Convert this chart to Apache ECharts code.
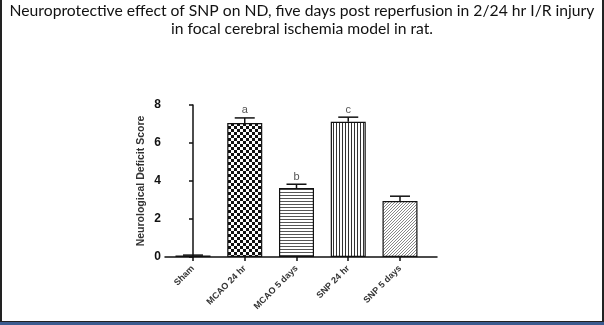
<!DOCTYPE html>
<html>
<head>
<meta charset="utf-8">
<script src="https://cdn.jsdelivr.net/npm/echarts@6/dist/echarts.min.js"></script>
<style>
html,body{margin:0;padding:0;background:#fff;}
#wrap{position:relative;width:604px;height:325px;overflow:hidden;}
#chart{position:absolute;left:0;top:0;width:604px;height:325px;}
.fr{position:absolute;}
</style>
</head>
<body>
<div id="wrap">
<div id="chart"></div>
<div class="fr" style="left:0;top:0;width:2px;height:325px;background:#222;"></div>
<div class="fr" style="right:0;top:0;width:2px;height:325px;background:#222;"></div>
<div class="fr" style="left:0;top:321px;width:604px;height:1px;background:#222;"></div>
<div class="fr" style="left:0;top:322px;width:604px;height:3px;background:#3b5b8f;"></div>
</div>
<script>
// ---- data ----
var categories = ['Sham', 'MCAO 24 hr', 'MCAO 5 days', 'SNP 24 hr', 'SNP 5 days'];
var means = [0.08, 7.05, 3.63, 7.12, 2.95];
var errors = [0.02, 0.27, 0.2, 0.24, 0.25];
var sigLetters = ['', 'a', 'b', 'c', ''];
var yTicks = [0, 2, 4, 6, 8];
var titleLines = ['Neuroprotective effect of SNP on ND, five days post reperfusion in 2/24 hr I/R injury',
                  'in focal cerebral ischemia model in rat.'];
var yName = 'Neurological Deficit Score';

// ---- patterns ----
function makeTile(w, h, draw) {
  var c = document.createElement('canvas');
  c.width = w; c.height = h;
  var ctx = c.getContext('2d');
  ctx.fillStyle = '#fff';
  ctx.fillRect(0, 0, w, h);
  draw(ctx);
  return c;
}
var checker = makeTile(6, 6, function (ctx) {
  ctx.fillStyle = '#111';
  ctx.fillRect(0, 0, 3, 3);
  ctx.fillRect(3, 3, 3, 3);
});
var hStripe = makeTile(3, 3, function (ctx) {
  ctx.fillStyle = '#555';
  ctx.fillRect(0, 0, 3, 1);
});
var vStripe = makeTile(3, 3, function (ctx) {
  ctx.fillStyle = '#333';
  ctx.fillRect(0, 0, 1, 3);
});
var diag = makeTile(3, 3, function (ctx) {
  ctx.fillStyle = '#888';
  ctx.fillRect(2, 0, 1, 1);
  ctx.fillRect(1, 1, 1, 1);
  ctx.fillRect(0, 2, 1, 1);
});
var fills = ['#222', {image: checker, repeat: 'repeat'}, {image: hStripe, repeat: 'repeat'},
             {image: vStripe, repeat: 'repeat'}, {image: diag, repeat: 'repeat'}];

var chart = echarts.init(document.getElementById('chart'), null, {renderer: 'canvas'});

var xMin = -0.541, xMax = 4.715;
var barData = means.map(function (v, i) {
  return {value: [i, v], itemStyle: {color: fills[i]}};
});
var errData = means.map(function (v, i) { return [i, v, errors[i]]; });

var titleStyle = {fontFamily: 'Lato', fontSize: 15.7, fontWeight: 'normal', color: '#111'};

var option = {
  backgroundColor: '#fff',
  animation: false,
  title: [
    {text: titleLines[0], left: 'center', top: 3, padding: 0, textStyle: titleStyle},
    {text: titleLines[1], left: 'center', top: 21, padding: 0, textStyle: titleStyle}
  ],
  grid: {left: 165, right: 167, top: 105, bottom: 68, containLabel: false},
  xAxis: {
    type: 'value',
    min: xMin,
    max: xMax,
    splitLine: {show: false},
    axisLine: {show: true, lineStyle: {color: '#111', width: 1.5}},
    axisTick: {show: true, customValues: [0, 1, 2, 3, 4], length: 4, lineStyle: {color: '#111', width: 1.5}},
    axisLabel: {
      show: true,
      customValues: [0, 1, 2, 3, 4],
      rotate: 45,
      margin: 10,
      fontFamily: 'Liberation Sans',
      fontSize: 9,
      fontWeight: 'bold',
      color: '#333',
      formatter: function (v) { return categories[Math.round(v)]; }
    }
  },
  yAxis: {
    type: 'value',
    min: 0,
    max: 8,
    interval: 2,
    name: yName,
    nameLocation: 'middle',
    nameGap: 18,
    nameTextStyle: {fontFamily: 'Liberation Sans', fontSize: 10.5, fontWeight: 'bold', color: '#333'},
    splitLine: {show: false},
    axisLine: {show: true, lineStyle: {color: '#111', width: 1.5}},
    axisTick: {show: true, length: 4, lineStyle: {color: '#111', width: 1.5}},
    axisLabel: {fontFamily: 'Liberation Sans', fontSize: 12, fontWeight: 'bold', color: '#111', margin: 4}
  },
  series: [
    {
      type: 'bar',
      barWidth: 35,
      data: barData,
      itemStyle: {borderColor: '#111', borderWidth: 1.2},
      z: 2
    },
    {
      type: 'custom',
      z: 3,
      data: errData,
      renderItem: function (params, api) {
        var i = api.value(0), v = api.value(1), e = api.value(2);
        var p0 = api.coord([i, v]);
        var p1 = api.coord([i, v + e]);
        var children = [
          {type: 'line', shape: {x1: p0[0], y1: p0[1], x2: p1[0], y2: p1[1]}, style: {stroke: '#111', lineWidth: 1.5}},
          {type: 'line', shape: {x1: p1[0] - 10, y1: p1[1], x2: p1[0] + 10, y2: p1[1]}, style: {stroke: '#111', lineWidth: 1.5}}
        ];
        var letter = sigLetters[params.dataIndex];
        if (letter) {
          children.push({type: 'text', style: {text: letter, x: p1[0], y: p1[1] - 2, align: 'center', verticalAlign: 'bottom',
            font: 'normal 11px "Liberation Sans"', fill: '#555'}});
        }
        return {type: 'group', children: children};
      }
    }
  ]
};
chart.setOption(option);
</script>
</body>
</html>
